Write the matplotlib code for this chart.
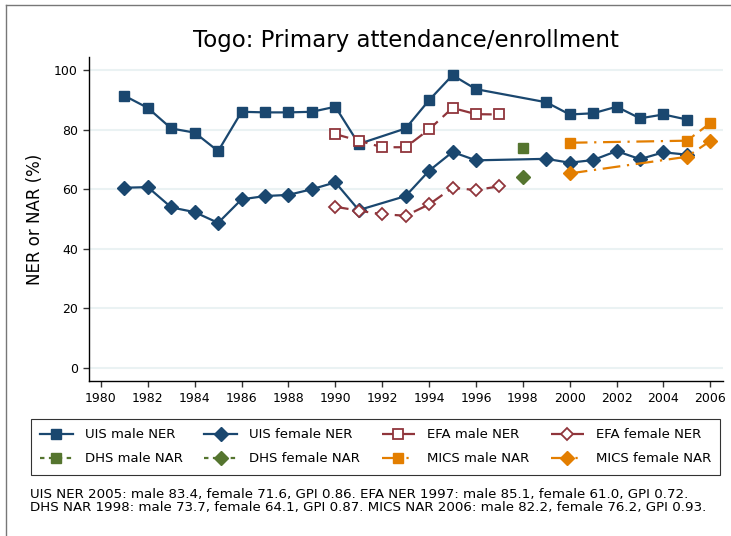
import numpy as np
import matplotlib
matplotlib.use('Agg')
import matplotlib.pyplot as plt
from matplotlib.lines import Line2D

plt.rcParams['font.family'] = ['DejaVu Sans']

# data
uis_years = [1981, 1982, 1983, 1984, 1985, 1986, 1987, 1988, 1989, 1990, 1991,
             1993, 1994, 1995, 1996, 1999, 2000, 2001, 2002, 2003, 2004, 2005]
uis_male = [91.4, 87.3, 80.4, 79.0, 72.8, 86.0, 85.8, 85.8, 86.0, 87.7, 75.2,
            80.4, 89.9, 98.3, 93.6, 89.2, 85.1, 85.5, 87.7, 83.8, 85.1, 83.4]
uis_female = [60.5, 60.7, 53.9, 52.3, 48.7, 56.6, 57.7, 58.1, 60.0, 62.3, 53.0,
              57.7, 66.2, 72.5, 69.7, 70.2, 68.9, 69.8, 72.8, 70.1, 72.4, 71.6]

efa_years = [1990, 1991, 1992, 1993, 1994, 1995, 1996, 1997]
efa_male = [78.5, 76.3, 74.1, 74.1, 80.1, 87.3, 85.2, 85.1]
efa_female = [54.1, 52.8, 51.6, 51.1, 54.9, 60.5, 59.7, 61.0]

dhs_years = [1998]
dhs_male = [73.7]
dhs_female = [64.1]

mics_years = [2000, 2005, 2006]
mics_male = [75.6, 76.3, 82.2]
mics_female = [65.3, 70.9, 76.2]

footnote = ("UIS NER 2005: male 83.4, female 71.6, GPI 0.86. EFA NER 1997: male 85.1, female 61.0, GPI 0.72.\n"
            "DHS NAR 1998: male 73.7, female 64.1, GPI 0.87. MICS NAR 2006: male 82.2, female 76.2, GPI 0.93.")

navy = '#1a476f'
maroon = '#90353b'
green = '#55752f'
orange = '#e37e00'

fig = plt.figure(figsize=(7.31, 5.36), dpi=100)
ax = fig.add_axes([89 / 731, 1 - 381 / 536, 634 / 731, 324 / 536])

lw = 1.6
ms = 7.5
h1, = ax.plot(uis_years, uis_male, '-', color=navy, lw=lw, marker='s', ms=ms, label='UIS male NER')
h2, = ax.plot(uis_years, uis_female, '-', color=navy, lw=lw, marker='D', ms=ms - 0.5, label='UIS female NER')
h3, = ax.plot(efa_years, efa_male, color=maroon, lw=lw, ls=(0, (6, 3)), marker='s', ms=ms - 0.5,
              mfc='white', mec=maroon, mew=1.3, label='EFA male NER')
h4, = ax.plot(efa_years, efa_female, color=maroon, lw=lw, ls=(0, (6, 3)), marker='D', ms=ms - 1,
              mfc='white', mec=maroon, mew=1.3, label='EFA female NER')
h5, = ax.plot(dhs_years, dhs_male, color=green, lw=lw, ls=(0, (2, 2)), marker='s', ms=ms, label='DHS male NAR')
h6, = ax.plot(dhs_years, dhs_female, color=green, lw=lw, ls=(0, (2, 2)), marker='D', ms=ms - 0.5, label='DHS female NAR')
h7, = ax.plot(mics_years, mics_male, color=orange, lw=lw, ls=(0, (8, 3, 1, 3)), marker='s', ms=ms, label='MICS male NAR')
h8, = ax.plot(mics_years, mics_female, color=orange, lw=lw, ls=(0, (8, 3, 1, 3)), marker='D', ms=ms - 0.5, label='MICS female NAR')

ax.set_xlim(1979.49, 2006.54)
ax.set_ylim(-4.4, 104.4)
ax.set_xticks(np.arange(1980, 2007, 2))
ax.set_yticks(np.arange(0, 101, 20))
ax.yaxis.grid(True, color='#eaf2f3', lw=1.5)
ax.set_axisbelow(True)
for s in ['top', 'right']:
    ax.spines[s].set_visible(False)
for s in ['left', 'bottom']:
    ax.spines[s].set_linewidth(1.0)
ax.tick_params(axis='both', direction='out', length=4.5, width=1, color='#333333',
               labelsize=9, pad=3.5)
ax.set_ylabel('NER or NAR (%)', fontsize=12, labelpad=7)
ax.set_title('Togo: Primary attendance/enrollment', fontsize=16.5, pad=7)

# row-wise order for a 4-column legend
handles = [h1, h5, h2, h6, h3, h7, h4, h8]
leg = fig.legend(handles=handles, labels=[h.get_label() for h in handles],
                 loc='upper left', bbox_to_anchor=(30.5 / 731, 1 - 478 / 536, 689.5 / 731, 59 / 536),
                 mode='expand', ncol=4, fontsize=9.5, frameon=True, fancybox=False,
                 edgecolor='black', handlelength=2.5, borderaxespad=0, borderpad=0.7,
                 labelspacing=0.85, handletextpad=0.9)
leg.get_frame().set_linewidth(0.8)

fig.text(30 / 731, 1 - 488 / 536, footnote, fontsize=9.6, va='top', ha='left', linespacing=1.0)

# outer frame (left and top edges visible)
fig.add_artist(Line2D([6 / 731, 6 / 731], [0, 1 - 5 / 536], transform=fig.transFigure,
                      color='#777777', lw=1))
fig.add_artist(Line2D([6 / 731, 1], [1 - 5 / 536, 1 - 5 / 536], transform=fig.transFigure,
                      color='#777777', lw=1))

fig.savefig('out.png', dpi=100)
